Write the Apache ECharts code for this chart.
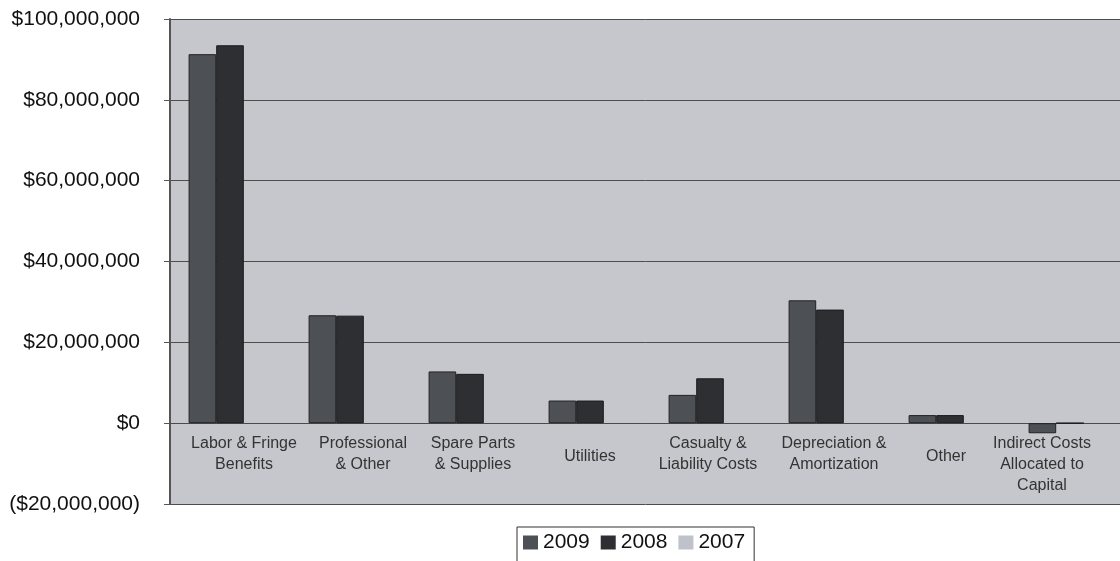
<!DOCTYPE html>
<html>
<head>
<meta charset="utf-8">
<title>Operating Expenses by Category</title>
<script src="https://cdn.jsdelivr.net/npm/echarts@6/dist/echarts.min.js"></script>
<style>
  html, body { margin: 0; padding: 0; background: #ffffff; }
  #chart { width: 1120px; height: 561px; }
</style>
</head>
<body>
<div id="chart"></div>
<script>
// Expense categories (line breaks follow the wrapped axis labels)
const categories = [
  'Labor & Fringe\nBenefits',
  'Professional\n& Other',
  'Spare Parts\n& Supplies',
  'Utilities',
  'Casualty &\nLiability Costs',
  'Depreciation &\nAmortization',
  'Other',
  'Indirect Costs\nAllocated to\nCapital'
];

// Annual amounts in dollars
const values2009 = [91300000, 26700000, 12800000, 5600000, 7000000, 30400000, 2000000, -2500000];
const values2008 = [93500000, 26600000, 12200000, 5600000, 11100000, 28100000, 2000000, 0];
const values2007 = [0, 0, 0, 0, 0, 0, 0, 0];

const yTicks = { min: -20000000, max: 100000000, interval: 20000000 };

// horizontal nudge (px) for each category label; the last one is pulled in from the clipped edge
const labelNudge = [14, 13, 3, 0, -2, 4, -4, -28];

function money(v) {
  const s = '$' + Math.abs(v).toLocaleString('en-US');
  return v < 0 ? '(' + s + ')' : s;
}

const chart = echarts.init(document.getElementById('chart'), null, { renderer: 'canvas' });

const FONT = '"Liberation Sans", Arial, sans-serif';
const LABEL_COLOR = '#333333';

// rich styles: one per label, padding shifts the centred text left or right
const rich = {};
labelNudge.forEach(function (n, i) {
  const single = categories[i].indexOf('\n') < 0;
  rich['c' + i] = {
    fontFamily: FONT,
    fontSize: 16,
    lineHeight: 21,
    color: LABEL_COLOR,
    padding: [single ? 26 : 0, n < 0 ? -2 * n : 0, 0, n > 0 ? 2 * n : 0]
  };
});

chart.setOption({
  animation: false,
  backgroundColor: '#ffffff',
  grid: {
    left: 170,
    top: 19,
    width: 960,
    height: 485,
    outerBoundsMode: 'none',
    containLabel: false,
    show: true,
    backgroundColor: '#c6c7cd',
    borderWidth: 0
  },
  legend: {
    left: 517,
    top: 527,
    padding: [5, 9, 12, 6],
    itemGap: 11,
    itemWidth: 15,
    itemHeight: 14,
    icon: 'rect',
    borderColor: '#333333',
    borderWidth: 1,
    backgroundColor: '#ffffff',
    itemStyle: { borderWidth: 0 },
    textStyle: { fontFamily: FONT, fontSize: 21, color: '#111111' },
    data: ['2009', '2008', '2007']
  },
  xAxis: {
    type: 'category',
    data: categories,
    axisLine: { show: true, onZero: true, lineStyle: { color: '#4a4a4a', width: 1 } },
    axisTick: { show: false },
    axisLabel: {
      interval: 0,
      // labels sit in the band between the zero line and the lower border
      margin: -71,
      verticalAlign: 'top',
      fontFamily: FONT,
      fontSize: 16,
      lineHeight: 21,
      color: LABEL_COLOR,
      formatter: function (v, i) {
        return v.split('\n').map(function (line) {
          return '{c' + i + '|' + line + '}';
        }).join('\n');
      },
      rich: rich
    }
  },
  yAxis: {
    type: 'value',
    min: yTicks.min,
    max: yTicks.max,
    interval: yTicks.interval,
    axisLine: { show: true, lineStyle: { color: '#555555', width: 2 } },
    axisTick: { show: true, inside: false, length: 6, lineStyle: { color: '#555555' } },
    axisLabel: {
      margin: 30,
      fontFamily: FONT,
      fontSize: 21,
      color: '#111111',
      formatter: money
    },
    splitLine: { show: true, lineStyle: { color: '#4d4d4d', width: 1 } }
  },
  series: [
    {
      name: '2009',
      type: 'bar',
      data: values2009,
      barGap: '0%',
      barCategoryGap: '31%',
      itemStyle: { color: '#4d5054', borderColor: '#222222', borderWidth: 1 }
    },
    {
      name: '2008',
      type: 'bar',
      data: values2008,
      barGap: '0%',
      barCategoryGap: '31%',
      itemStyle: { color: '#2d2f33', borderColor: '#1a1a1a', borderWidth: 1 }
    },
    {
      name: '2007',
      type: 'bar',
      data: values2007,
      barGap: '0%',
      barCategoryGap: '31%',
      itemStyle: { color: '#c0c2cb', borderWidth: 0 }
    }
  ]
});
</script>
</body>
</html>
